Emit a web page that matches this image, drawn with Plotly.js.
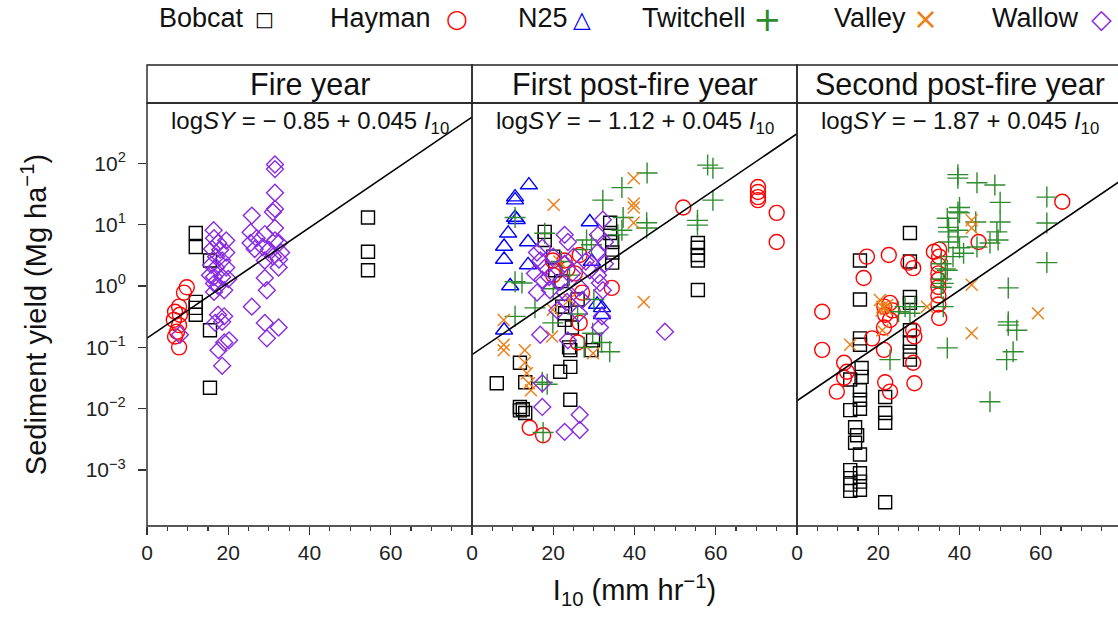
<!DOCTYPE html>
<html>
<head>
<meta charset="utf-8">
<script src="https://cdn.plot.ly/plotly-3.0.1.min.js"></script>
<style>
html,body{margin:0;padding:0;overflow:hidden;background:#fff;}
#chart{width:1124px;height:621px;}
</style>
</head>
<body>
<div id="chart"></div>
<script>
// ---------- data: [I10 (mm/hr), sediment yield (Mg/ha)] ----------
const panelTitles = ["Fire year", "First post-fire year", "Second post-fire year"];
const intercepts = [-0.85, -1.12, -1.87];
const slope = 0.045;
const siteNames = ["Bobcat", "Hayman", "N25", "Twitchell", "Valley", "Wallow"];

// Fire year
const bobcatFy = [[12,7.3],[12,4.3],[15.5,2.6],[12,0.55],[12,0.44],[12,0.34],[15.5,0.19],[15.5,0.022],[54.4,13],[54.4,3.6],[54.4,1.8]];
const haymanFy = [[9.8,0.95],[9.1,0.78],[7.9,0.46],[6.9,0.38],[8.1,0.34],[6.6,0.28],[7.9,0.23],[7.4,0.18],[6.9,0.15],[7.9,0.10]];
const wallowFy = [[31.5,95],[31.5,80],[31.5,33],[31.5,18],[31,16],[25.8,14],[31.5,8.8],[16.4,8.1],[16.5,6],[17.5,5],[19.5,5.5],[16,4],[18,3.9],[19.5,3.5],[17,3],[18.5,2.6],[15.8,2.2],[17,2],[19.5,2],[15.5,1.5],[16.5,1.4],[18.5,1.4],[20,1.3],[16.5,1.1],[17.5,1.0],[19,0.85],[16.5,0.8],[25.5,7.5],[27,6],[29,7],[25.5,5],[26.5,4],[28.5,4.3],[30,3.9],[31.5,5.5],[32.5,5],[31,3],[32.5,2.7],[33,3.5],[29,2.6],[32.4,2],[29,1.35],[25.8,0.46],[29.5,0.85],[29,0.25],[32.4,0.21],[29.5,0.14],[17.5,0.34],[19,0.32],[16.8,0.25],[18.5,0.26],[20.2,0.13],[19,0.12],[17.6,0.09],[18.5,0.05],[8.1,0.16]];

// First post-fire year
const bobcatP1 = [[6.1,0.026],[11.8,0.056],[13.1,0.027],[11.8,0.0107],[11.8,0.0094],[12.5,0.0098],[13.1,0.0085],[24.2,0.014],[21.7,0.04],[24.2,0.048],[24.2,0.09],[17.9,7.6],[17.9,5.6],[34,10.7],[34,7.3],[34.5,5.2],[34.5,2.4],[22.2,0.46],[22.9,0.36],[22.8,0.28],[24.6,0.21],[23.9,0.10],[29.8,0.13],[29.4,0.09],[55.6,5],[55.6,4.2],[55.6,3.2],[55.6,2.6],[55.6,0.86],[20,3],[20.5,1.8],[22,1.2],[26,0.6],[34.5,3.5]];
const haymanP1 = [[52,19],[70.4,41],[70.4,34],[70.4,28],[70.4,25],[75,15.5],[75,5.2],[34.4,0.93],[14.2,0.0049],[17.5,0.0037],[19.9,2.6],[22.8,2.6],[25.3,1.6],[26.5,3.2],[27.1,0.78],[26.5,0.25],[26,0.12],[20,1.5],[23.5,1.9]];
const n25P1 = [[14,44],[10.6,28],[10.6,25],[10.6,13],[11,12],[8.9,7.2],[7.9,4.4],[7.9,2.7],[13.8,5.2],[13.8,2.2],[9.4,1.0],[7.9,0.19],[29,11],[29.5,2.5],[32,0.44],[32,0.34],[30.8,0.5]];
const twitchellP1 = [[43.1,69],[36.9,40],[32.2,25],[37.2,13],[43,10.7],[43,8.8],[36.9,8.1],[35.9,6.8],[58,93],[59.3,83],[59.3,25],[55.5,11.7],[55.5,9.8],[10.6,13],[17.9,7.2],[28.2,5.6],[29.4,4.7],[27.2,3.9],[10.6,1.17],[12.3,1.12],[10.6,0.32],[15.5,0.44],[19.9,0.25],[29.7,0.17],[31.9,0.12],[33.9,0.085],[27.6,0.1],[17.3,0.027],[18.5,0.025],[17.5,0.0041],[22,2.5],[24,1.5],[20,0.9],[26,0.35],[30,0.6]];
const valleyP1 = [[20.1,21],[7.8,0.28],[7.8,0.11],[7.8,0.09],[13,0.09],[13,0.056],[13.5,0.038],[14,0.026],[14.5,0.02],[19.9,0.41],[19.7,0.15],[29.8,0.08],[39.8,57],[39.8,22],[39.8,19],[39.8,10.7],[42.3,0.55],[21.5,2.5],[24,0.6]];
const wallowP1 = [[32.2,12],[22.8,6.8],[23.6,5.2],[31,6.8],[32.7,5.2],[30.8,3.5],[17.3,4.2],[16,3.5],[16.8,2.6],[22.8,2.3],[24.6,1.6],[15.5,1.6],[17.3,1.26],[21.7,1.17],[19.2,0.85],[16,0.78],[22.8,0.78],[23.4,0.55],[31,1.5],[31.5,1.12],[32.7,2.3],[32.2,0.85],[26.5,0.95],[27.1,0.59],[26.3,0.36],[32,0.32],[31.5,0.21],[16.8,0.16],[23.6,0.13],[47.5,0.18],[17.3,0.026],[17.3,0.0107],[26.5,0.008],[22.8,0.0042],[26.5,0.0045],[18,2],[20,3],[19,1.4],[25,3],[28,2.5],[29,1.8],[21,0.4]];

// Second post-fire year
const bobcatP2 = [[27.8,7.3],[15.5,2.6],[27.8,2.5],[15.5,0.6],[27.8,0.66],[27.8,0.53],[15.5,0.14],[15.5,0.11],[27.8,0.19],[27.8,0.12],[27.8,0.085],[27.8,0.063],[15.9,0.046],[15.9,0.033],[15.5,0.02],[15.5,0.014],[15.5,0.01],[13.1,0.0095],[14.3,0.005],[14.8,0.0037],[14.3,0.0028],[15.5,0.0018],[13.1,0.001],[13.1,0.00074],[13.1,0.00058],[13.1,0.00046],[15.5,0.00089],[15.5,0.00065],[15.5,0.00048],[21.7,0.0003],[21.7,0.0155],[21.7,0.0085],[21.7,0.0059],[13.1,0.03]];
const haymanP2 = [[6.2,0.38],[6.2,0.091],[17.2,3.0],[22.6,3.2],[16.4,1.35],[27.4,2.4],[28.6,1.95],[33.7,3.6],[35,3.9],[35,3.0],[34.8,1.6],[34.8,1.26],[34.8,0.96],[35,0.3],[21.5,0.46],[22.9,0.53],[21.7,0.34],[22.9,0.28],[21.4,0.21],[18.5,0.14],[21.4,0.091],[28.6,0.19],[28.9,0.15],[28.6,0.056],[28.9,0.026],[11.6,0.056],[12.3,0.04],[11.6,0.032],[9.8,0.019],[21.7,0.027],[22.9,0.019],[65.3,23.5],[44.7,5.2],[34.8,2.2],[34.8,0.7],[34.8,0.5],[23.5,0.4]];
const twitchellP2 = [[39.6,65],[39.6,57],[44.3,48],[48.7,44],[50,23],[50,11],[49.2,7.6],[49.5,5.6],[39.6,16],[39.6,8.1],[39.6,6.3],[40,4.2],[38.4,3],[37,12.7],[37,1.8],[44.3,4.3],[47.5,5],[61.5,28],[61.5,10.6],[61.5,2.4],[52,0.93],[52,0.26],[52,0.23],[54.1,0.19],[53.2,0.085],[51.6,0.063],[47.5,0.013],[37,0.098],[35.5,2.3],[36.5,1.9],[35.5,1.3],[36,1.1],[35.5,0.95],[36,0.46],[26.6,0.46],[27.8,0.36],[29,0.46],[22.9,0.063],[25,0.38],[40,19],[40,15.5],[37.3,9],[37.3,7.6],[37.3,5.2],[44,11],[41,3.4]];
const valleyP2 = [[21,0.46],[22.2,0.49],[20.8,0.4],[22,0.42],[20.4,0.59],[13.1,0.11],[21,0.19],[32,0.46],[43,11.8],[43,8.8],[43,1.05],[43,0.17],[59.3,0.36]];

const yTickVals = [1e-3, 1e-2, 1e-1, 1, 10, 100];
const yTickText = ["10<sup>\u22123</sup>","10<sup>\u22122</sup>","10<sup>\u22121</sup>","10<sup>0</sup>","10<sup>1</sup>","10<sup>2</sup>"];
const xTickVals = [0, 20, 40, 60];

// ---------- styles ----------
const styles = {
  Bobcat:    {symbol:"square-open",      color:"#000000", size:13, glyph:"\u25A1", gsize:20},
  Hayman:    {symbol:"circle-open",      color:"#ff0000", size:15, glyph:"\u25CB", gsize:25},
  N25:       {symbol:"triangle-up-open", color:"#0000ff", size:15, glyph:"\u25B3", gsize:23},
  Twitchell: {symbol:"cross-thin-open",  color:"#2e8b2e", size:15, glyph:"+",      gsize:34},
  Valley:    {symbol:"x-thin-open",      color:"#f07c12", size:12, glyph:"\u00D7", gsize:30},
  Wallow:    {symbol:"diamond-open",     color:"#8a2be2", size:13, glyph:"\u25C7", gsize:27}
};

const panels = [
  {xa:"x",  sets:{Bobcat:bobcatFy, Hayman:haymanFy, Wallow:wallowFy}},
  {xa:"x2", sets:{Bobcat:bobcatP1, Hayman:haymanP1, N25:n25P1, Twitchell:twitchellP1, Valley:valleyP1, Wallow:wallowP1}},
  {xa:"x3", sets:{Bobcat:bobcatP2, Hayman:haymanP2, Twitchell:twitchellP2, Valley:valleyP2}}
];

const traces = [];
const xRange = [0, 80];
panels.forEach((p, i) => {
  siteNames.forEach(name => {
    const d = p.sets[name];
    if (!d) return;
    const s = styles[name];
    traces.push({
      type:"scatter", mode:"markers", name:name, xaxis:p.xa, yaxis:"y",
      x:d.map(v=>v[0]), y:d.map(v=>v[1]), showlegend:false, cliponaxis:true,
      marker:{symbol:s.symbol, size:s.size, color:s.color, line:{color:s.color, width:1.4}}
    });
  });
  // regression line from model parameters
  traces.push({
    type:"scatter", mode:"lines", xaxis:p.xa, yaxis:"y", showlegend:false,
    x:xRange, y:xRange.map(v=>Math.pow(10, intercepts[i] + slope*v)),
    line:{color:"#000", width:1.6}, hoverinfo:"skip"
  });
});

const FONT = "Liberation Sans, Arial, Helvetica, sans-serif";
const xCommon = {
  range:xRange, tickvals:xTickVals, ticks:"outside", ticklen:8, tickwidth:1.3, tickcolor:"#333",
  minor:{dtick:5, ticks:"outside", ticklen:4, tickwidth:1.2, tickcolor:"#333", showgrid:false},
  showgrid:false, zeroline:false, showline:false, anchor:"y",
  tickfont:{family:FONT, size:21, color:"#222"}
};
const third = 1/3;
const layout = {
  width:1124, height:621,
  margin:{l:147, r:2, t:103, b:95},
  paper_bgcolor:"#fff", plot_bgcolor:"#fff",
  font:{family:FONT, color:"#111"},
  showlegend:false,
  xaxis:Object.assign({}, xCommon, {domain:[0, third]}),
  xaxis2:Object.assign({}, xCommon, {domain:[third, 2*third],
    title:{text:"I<sub>10</sub> (mm hr<sup>\u22121</sup>)", font:{family:FONT, size:29, color:"#111"}, standoff:16}}),
  xaxis3:Object.assign({}, xCommon, {domain:[2*third, 1]}),
  yaxis:{type:"log", range:[-3.91, 2.98], tickvals:yTickVals, ticktext:yTickText,
    ticks:"outside", ticklen:8, tickwidth:1.3, tickcolor:"#333", ticklabelstandoff:8,
    showgrid:false, zeroline:false, showline:false,
    tickfont:{family:FONT, size:21, color:"#222"},
    title:{text:"Sediment yield (Mg ha<sup>\u22121</sup>)", font:{family:FONT, size:29, color:"#111"}, standoff:30}},
  shapes:[], annotations:[]
};

const stripTop = 1 + 38/423;
["x","x2","x3"].forEach((ax, i) => {
  layout.shapes.push({type:"rect", xref:ax+" domain", yref:"paper", x0:0, x1:1, y0:0, y1:1,
    line:{color:"#222", width:1.4}, layer:"above"});
  layout.shapes.push({type:"rect", xref:ax+" domain", yref:"paper", x0:0, x1:1, y0:1, y1:stripTop,
    line:{color:"#222", width:1.4}, layer:"above"});
  layout.annotations.push({xref:ax+" domain", yref:"paper", x:0.5, y:(1+stripTop)/2,
    text:panelTitles[i], showarrow:false, xanchor:"center", yanchor:"middle",
    font:{family:FONT, size:30.5, color:"#111"}});
  const a = intercepts[i];
  layout.annotations.push({xref:ax+" domain", yref:"paper", x:0.5, y:0.953,
    text:"log<i>SY</i> = \u2212 " + Math.abs(a).toFixed(2) + " + " + slope.toFixed(3) + " <i>I</i><sub>10</sub>",
    showarrow:false, xanchor:"center", yanchor:"middle",
    font:{family:FONT, size:24, color:"#111"}});
});

// legend row (text followed by symbol)
const legendTextX = [157, 328, 516, 640, 832, 990];
const legendGlyphX = [264, 457, 582, 767, 925, 1101];
siteNames.forEach((name, i) => {
  const s = styles[name];
  layout.annotations.push({xref:"paper", yref:"paper", x:(legendTextX[i]-147)/975, y:(526-18)/423,
    xanchor:"left", yanchor:"middle", showarrow:false, text:name,
    font:{family:FONT, size:27, color:"#111"}});
  layout.annotations.push({xref:"paper", yref:"paper", x:(legendGlyphX[i]-147)/975, y:(526-19)/423,
    xanchor:"center", yanchor:"middle", showarrow:false, text:s.glyph,
    font:{family:"DejaVu Sans, sans-serif", size:s.gsize, color:s.color}});
});

Plotly.newPlot("chart", traces, layout, {displayModeBar:false, staticPlot:true});
</script>
</body>
</html>
